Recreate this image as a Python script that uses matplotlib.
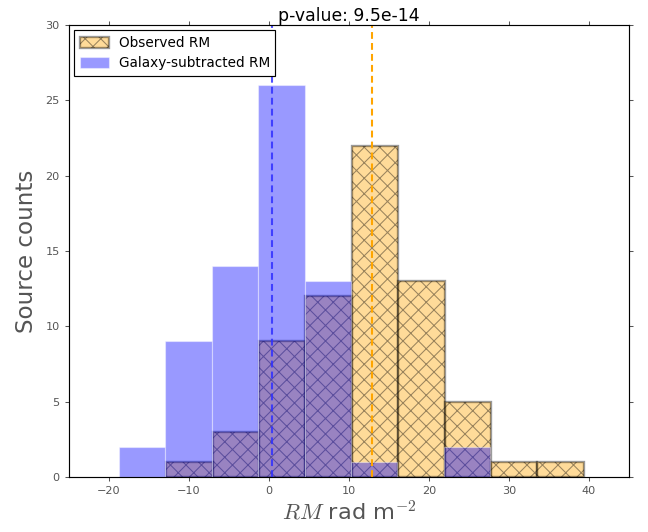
import numpy as np
import matplotlib
matplotlib.use("Agg")
import matplotlib.pyplot as plt

# histogram bins (rad m^-2) and counts per bin
obs_edges = [-12.85, -7.05, -1.25, 4.55, 10.35, 16.15, 21.95, 27.75, 33.55, 39.35]
obs_counts = [1, 3, 9, 12, 22, 13, 5, 1, 1]
sub_edges = [-18.75, -12.95, -7.15, -1.35, 4.45, 10.25, 16.05, 21.85, 27.65]
sub_counts = [2, 9, 14, 26, 13, 1, 0, 2]

obs_mean = 12.9
sub_mean = 0.35
p_value = 9.5e-14

DPI = 93
GREY = "#555555"

plt.rcParams["mathtext.fontset"] = "cm"
plt.rcParams["hatch.linewidth"] = 0.8
plt.rcParams["hatch.color"] = "black"

fig = plt.figure(figsize=(648 / DPI, 532 / DPI), dpi=DPI)
ax = fig.add_axes([0.1065, 0.1034, 0.8642, 0.8496])


def draw_hist(edges, counts, **kw):
    edges = np.asarray(edges)
    return ax.bar(edges[:-1], counts, width=np.diff(edges), align="edge", **kw)


draw_hist(obs_edges, obs_counts, facecolor="orange", edgecolor="black",
          linewidth=1.8, hatch="xx", alpha=0.4, label="Observed RM")
draw_hist(sub_edges, sub_counts, facecolor="blue", edgecolor="white",
          linewidth=0.9, alpha=0.4, label="Galaxy-subtracted RM")

ax.axvline(sub_mean, color="#3030ff", linewidth=1.6, linestyle=(0, (3.3, 2.0)), alpha=0.85)
ax.axvline(obs_mean, color="orange", linewidth=1.6, linestyle=(0, (3.3, 2.0)))

ax.set_xlim(-25, 45)
ax.set_ylim(0, 30)
ax.set_xticks(np.arange(-20, 41, 10))
ax.set_yticks(np.arange(0, 31, 5))
ax.tick_params(direction="out", length=3.2, width=0.8, labelsize=8.7,
               labelcolor=GREY, color=GREY, top=True, right=True, pad=4)
for s in ax.spines.values():
    s.set_linewidth(0.9)

ax.set_xlabel(r"$RM$ rad m$^{-2}$", fontsize=17.4, color=GREY, labelpad=3)
ax.set_ylabel("Source counts", fontsize=17.8, color=GREY, labelpad=6)
ax.set_title(f"p-value: {p_value:.1e}", fontsize=13.4, pad=3)

leg = ax.legend(loc="upper left", fontsize=10.6, fancybox=False, framealpha=1,
                borderaxespad=0.4, handlelength=2.1, handleheight=0.9,
                handletextpad=0.73, borderpad=0.4, labelspacing=0.45)
leg.get_frame().set_edgecolor("black")
leg.get_frame().set_linewidth(0.9)

fig.savefig("out.png", dpi=DPI)
